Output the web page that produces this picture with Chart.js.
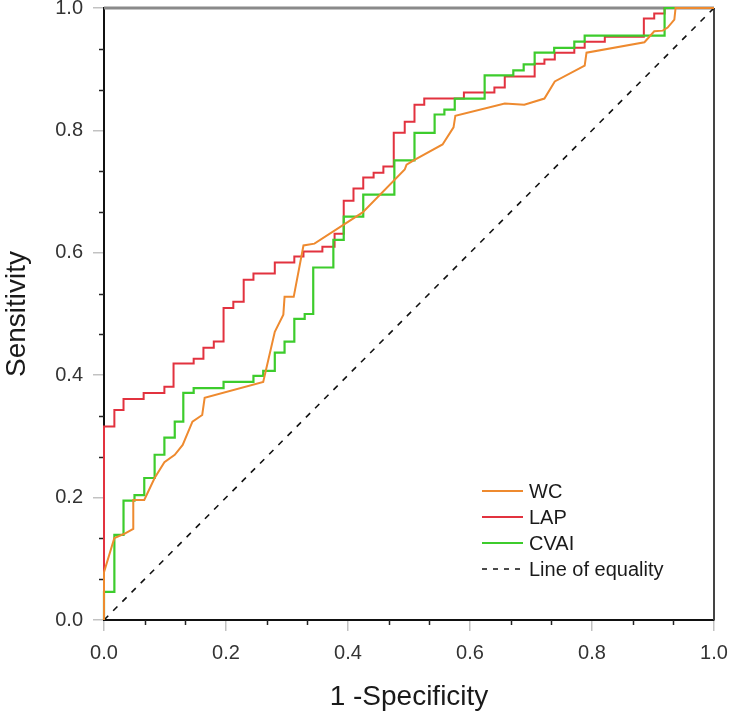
<!DOCTYPE html>
<html lang="en">
<head>
<meta charset="UTF-8">
<title>ROC curves</title>
<script src="https://cdn.jsdelivr.net/npm/chart.js"></script>
<style>
  html, body { margin: 0; padding: 0; background: #fff; }
</style>
</head>
<body>
<canvas id="myChart" width="734" height="720"></canvas>
<script>
// 1 - specificity (x) and sensitivity (y)
const wcFpr = [0, 0, 0.017, 0.034, 0.048, 0.048, 0.066, 0.083, 0.099, 0.116,
  0.129, 0.145, 0.161, 0.165, 0.261, 0.280, 0.294, 0.296, 0.311, 0.327,
  0.345, 0.424, 0.493, 0.496, 0.509, 0.555, 0.573, 0.576, 0.657, 0.689,
  0.722, 0.739, 0.788, 0.791, 0.886, 0.902, 0.916, 0.924, 0.935, 0.937, 1];
const wcTpr = [0, 0.078, 0.134, 0.141, 0.149, 0.196, 0.196, 0.232, 0.258, 0.270,
  0.286, 0.324, 0.335, 0.363, 0.389, 0.471, 0.499, 0.528, 0.528, 0.612,
  0.615, 0.666, 0.736, 0.744, 0.752, 0.777, 0.805, 0.824, 0.844, 0.842,
  0.852, 0.880, 0.906, 0.927, 0.944, 0.962, 0.963, 0.968, 0.981, 1.0, 1.0];

const lapFpr = [0, 0, 0.017, 0.032, 0.065, 0.099, 0.114, 0.147, 0.163, 0.180,
  0.196, 0.212, 0.229, 0.245, 0.280, 0.312, 0.327, 0.358, 0.378, 0.393,
  0.409, 0.425, 0.442, 0.458, 0.475, 0.493, 0.509, 0.525, 0.590, 0.640,
  0.657, 0.706, 0.722, 0.739, 0.771, 0.788, 0.821, 0.885, 0.902, 0.919, 1];
const lapTpr = [0, 0.316, 0.343, 0.361, 0.371, 0.381, 0.419, 0.427, 0.445, 0.455,
  0.510, 0.520, 0.556, 0.566, 0.584, 0.594, 0.602, 0.610, 0.631, 0.685,
  0.705, 0.723, 0.731, 0.741, 0.796, 0.814, 0.842, 0.852, 0.862, 0.870,
  0.888, 0.909, 0.916, 0.927, 0.935, 0.945, 0.953, 0.983, 0.991, 1.0, 1.0];

const cvaiFpr = [0, 0, 0.017, 0.032, 0.050, 0.066, 0.083, 0.099, 0.116, 0.130,
  0.147, 0.196, 0.245, 0.261, 0.280, 0.296, 0.312, 0.329, 0.343, 0.376,
  0.393, 0.425, 0.476, 0.509, 0.542, 0.558, 0.575, 0.624, 0.671, 0.688,
  0.706, 0.738, 0.771, 0.788, 0.919, 1];
const cvaiTpr = [0, 0.046, 0.139, 0.195, 0.204, 0.232, 0.270, 0.298, 0.324, 0.371,
  0.379, 0.389, 0.399, 0.407, 0.437, 0.455, 0.492, 0.500, 0.576, 0.621,
  0.659, 0.695, 0.751, 0.796, 0.826, 0.834, 0.852, 0.890, 0.898, 0.908,
  0.927, 0.935, 0.945, 0.955, 1.0, 1.0];

const equalityFpr = [0, 1];
const equalityTpr = [0, 1];

const seriesNames = ['WC', 'LAP', 'CVAI', 'Line of equality'];
const tickLabels = ['0.0', '0.2', '0.4', '0.6', '0.8', '1.0'];
const minorPerMajor = 2; // two small ticks between labelled ones

const colors = ['#ee8a2f', '#e2323f', '#3dcc2c', '#111111'];
const FONT = '"Liberation Sans", Arial, sans-serif';

function toPoints(xs, ys) {
  return xs.map((x, i) => ({ x: x, y: ys[i] }));
}

// frame, minor ticks and the legend inside the plot
const rocExtras = {
  id: 'rocExtras',
  beforeDatasetsDraw(chart) {
    const ctx = chart.ctx;
    const a = chart.chartArea;
    const xs = chart.scales.x, ys = chart.scales.y;
    ctx.save();
    // minor ticks
    ctx.strokeStyle = '#222';
    ctx.lineWidth = 1.5;
    const n = (tickLabels.length - 1) * (minorPerMajor + 1);
    for (let i = 1; i < n; i++) {
      if (i % (minorPerMajor + 1) === 0) continue;
      const px = Math.round(xs.getPixelForValue(i / n)) + 0.5;
      ctx.beginPath(); ctx.moveTo(px, a.bottom); ctx.lineTo(px, a.bottom + 5); ctx.stroke();
      const py = Math.round(ys.getPixelForValue(i / n)) + 0.5;
      ctx.beginPath(); ctx.moveTo(a.left, py); ctx.lineTo(a.left - 5, py); ctx.stroke();
    }
    // top and right edges
    ctx.strokeStyle = '#8a8a8a';
    ctx.lineWidth = 3;
    ctx.beginPath(); ctx.moveTo(a.left, a.top); ctx.lineTo(a.right, a.top); ctx.stroke();
    ctx.strokeStyle = '#444';
    ctx.lineWidth = 2;
    ctx.beginPath(); ctx.moveTo(a.right, a.top); ctx.lineTo(a.right, a.bottom); ctx.stroke();
    ctx.restore();
  },
  afterDraw(chart) {
    const ctx = chart.ctx;
    const a = chart.chartArea;
    const x0 = a.right - 232, y0 = a.bottom - 129, rowH = 26;
    ctx.save();
    ctx.font = '20px ' + FONT;
    ctx.textBaseline = 'middle';
    ctx.textAlign = 'left';
    seriesNames.forEach((name, i) => {
      const y = y0 + i * rowH;
      ctx.strokeStyle = colors[i];
      ctx.lineWidth = i === 3 ? 1.5 : 2;
      ctx.setLineDash(i === 3 ? [5, 6] : []);
      ctx.beginPath(); ctx.moveTo(x0, y); ctx.lineTo(x0 + 41, y); ctx.stroke();
      ctx.setLineDash([]);
      ctx.fillStyle = '#1a1a1a';
      ctx.fillText(name, x0 + 47, y + 1);
    });
    ctx.restore();
  }
};

const ctx = document.getElementById('myChart').getContext('2d');
new Chart(ctx, {
  type: 'line',
  data: {
    datasets: [
      { label: seriesNames[0], data: toPoints(wcFpr, wcTpr), borderColor: colors[0],
        borderWidth: 2, order: 0 },
      { label: seriesNames[2], data: toPoints(cvaiFpr, cvaiTpr), borderColor: colors[2],
        borderWidth: 2.2, stepped: 'before', order: 1 },
      { label: seriesNames[1], data: toPoints(lapFpr, lapTpr), borderColor: colors[1],
        borderWidth: 2, stepped: 'before', order: 2 },
      { label: seriesNames[3], data: toPoints(equalityFpr, equalityTpr), borderColor: colors[3],
        borderWidth: 1.6, borderDash: [6, 7], order: 3 }
    ]
  },
  options: {
    responsive: false,
    animation: false,
    devicePixelRatio: 1,
    layout: { padding: { top: 8, right: 20, left: 0, bottom: 0 } },
    elements: { point: { radius: 0 }, line: { tension: 0 } },
    datasets: { line: { clip: false } },
    plugins: {
      legend: { display: false },
      tooltip: { enabled: false }
    },
    scales: {
      x: {
        type: 'linear', min: 0, max: 1,
        afterBuildTicks: s => { s.ticks = tickLabels.map(t => ({ value: Number(t) })); },
        afterFit: s => { s.height = 100; s.paddingLeft = 0; s.paddingRight = 0; },
        ticks: {
          callback: v => v.toFixed(1),
          font: { family: FONT, size: 20 }, color: '#333',
          padding: 10, maxRotation: 0, autoSkip: false
        },
        grid: { drawOnChartArea: false, tickLength: 11, color: '#c2c2c2', lineWidth: 1.5 },
        border: { color: '#111', width: 2 },
        title: { display: true, text: '1 -Specificity', color: '#1a1a1a',
          font: { family: FONT, size: 28 }, padding: { top: 0, bottom: 6 } }
      },
      y: {
        type: 'linear', min: 0, max: 1,
        afterBuildTicks: s => { s.ticks = tickLabels.map(t => ({ value: Number(t) })); },
        afterFit: s => { s.width = 104; s.paddingTop = 0; s.paddingBottom = 0; },
        ticks: {
          callback: v => v.toFixed(1),
          font: { family: FONT, size: 20 }, color: '#333',
          padding: 10, autoSkip: false
        },
        grid: { drawOnChartArea: false, tickLength: 11, color: '#c2c2c2', lineWidth: 1.5 },
        border: { color: '#111', width: 2 },
        title: { display: true, text: 'Sensitivity', color: '#1a1a1a',
          font: { family: FONT, size: 28 }, padding: { top: 0, bottom: 0 } }
      }
    }
  },
  plugins: [rocExtras]
});
</script>
</body>
</html>
